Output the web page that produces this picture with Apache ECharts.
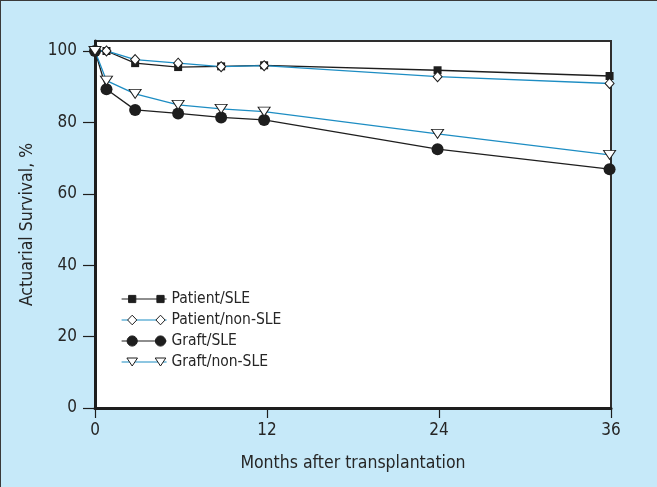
<!DOCTYPE html>
<html>
<head>
<meta charset="utf-8">
<script src="https://cdn.jsdelivr.net/npm/echarts@6/dist/echarts.min.js"></script>
<style>
html,body{margin:0;padding:0;background:#c6e9f9;}
#chart{position:absolute;left:0;top:0;width:657px;height:487px;}
#frame{position:absolute;left:0;top:0;width:657px;height:487px;box-sizing:border-box;border:1px solid #3a3a3a;border-right:none;border-bottom:none;pointer-events:none;}
</style>
</head>
<body>
<div id="chart"></div>
<div id="frame"></div>
<script>
// ---- data ----
const months = [0, 0.8, 2.8, 5.8, 8.8, 11.8, 23.9, 35.9];
const patientSLE = [100, 100, 96.6, 95.5, 95.7, 96.0, 94.6, 93.0];
const patientNonSLE = [100, 100, 97.6, 96.6, 95.6, 95.9, 92.8, 90.9];
const graftSLE = [100, 89.3, 83.5, 82.5, 81.4, 80.7, 72.5, 66.9];
const graftNonSLE = [100, 91.7, 88.0, 84.9, 83.8, 83.0, 76.8, 70.9];
const seriesNames = ['Patient/SLE', 'Patient/non-SLE', 'Graft/SLE', 'Graft/non-SLE'];
const xTicks = [0, 12, 24, 36];
const yTicks = [0, 20, 40, 60, 80, 100];

const FONT = "'Liberation Sans Narrow', 'DejaVu Sans Condensed', 'Liberation Sans', sans-serif";
const BLACK = '#1e1e1e';
const BLUE = '#1d8dc3';
const TEXT = '#262626';

function pairs(vals) { return months.map((m, i) => [m, vals[i]]); }

// legend icons (45 x 12 box); anchors fix the bounding box
const ANCH = ' M0 0 M45 12';
const lineIcon = 'path://M0 6H45' + ANCH;
const sqIcon = 'path://M7.1 2.4H14.3V9.6H7.1Z M35.4 2.4H42.6V9.6H35.4Z' + ANCH;
const diaIcon = 'path://M10.7 1.2L15.3 6L10.7 10.8L6.1 6Z M39 1.2L43.6 6L39 10.8L34.4 6Z' + ANCH;
const cirIcon = 'path://M5.6 6A5.1 5.1 0 1 0 15.8 6A5.1 5.1 0 1 0 5.6 6Z M33.9 6A5.1 5.1 0 1 0 44.1 6A5.1 5.1 0 1 0 33.9 6Z' + ANCH;
const triIcon = 'path://M5.4 2H16L10.7 10Z M33.7 2H44.3L39 10Z' + ANCH;

const lineColors = [BLACK, BLUE, BLACK, BLUE];
const shapeIcons = [sqIcon, diaIcon, cirIcon, triIcon];
const shapeFill = [BLACK, '#ffffff', BLACK, '#ffffff'];

const legendCommon = {
  orient: 'vertical', left: 121, top: 291, padding: 0, itemWidth: 45, itemHeight: 12, itemGap: 5,
  selectedMode: false, symbolKeepAspect: false
};

const option = {
  backgroundColor: '#c6e9f9',
  animation: false,
  grid: { left: 95, right: 46, top: 41, bottom: 79, show: true, backgroundColor: '#ffffff', borderColor: '#2e2e2e', borderWidth: 2 },
  xAxis: {
    type: 'value', min: 0, max: 36, interval: 12,
    name: 'Months after transplantation', nameLocation: 'middle', nameGap: 46,
    nameTextStyle: { fontFamily: FONT, fontSize: 17.5, color: TEXT },
    axisLine: { lineStyle: { color: BLACK, width: 3 } },
    axisTick: { length: 10, lineStyle: { color: BLACK, width: 1.2 } },
    axisLabel: { fontFamily: FONT, fontSize: 17, color: TEXT, margin: 14,
      formatter: v => xTicks.indexOf(v) >= 0 ? String(v) : '' },
    splitLine: { show: false }
  },
  yAxis: {
    type: 'value', min: 0, max: 102.8, interval: 20,
    name: 'Actuarial Survival, %', nameLocation: 'middle', nameGap: 49,
    nameTextStyle: { fontFamily: FONT, fontSize: 17.5, color: TEXT },
    axisLine: { lineStyle: { color: BLACK, width: 3 } },
    axisTick: { length: 12, lineStyle: { color: BLACK, width: 1.2 } },
    axisLabel: { fontFamily: FONT, fontSize: 17, color: TEXT, margin: 18, showMaxLabel: false,
      formatter: v => yTicks.indexOf(v) >= 0 ? String(v) : '' },
    splitLine: { show: false }
  },
  legend: [
    Object.assign({}, legendCommon, {
      z: 5,
      textStyle: { color: 'rgba(0,0,0,0)', fontFamily: FONT, fontSize: 15.5 },
      data: seriesNames.map((n, i) => ({ name: n, icon: lineIcon,
        itemStyle: { color: 'rgba(0,0,0,0)', borderColor: lineColors[i], borderWidth: 1.2 } }))
    }),
    Object.assign({}, legendCommon, {
      z: 6,
      textStyle: { color: TEXT, fontFamily: FONT, fontSize: 15.5 },
      data: seriesNames.map((n, i) => ({ name: n, icon: shapeIcons[i],
        itemStyle: { color: shapeFill[i], borderColor: BLACK, borderWidth: 1 } }))
    })
  ],
  series: [
    { name: seriesNames[0], type: 'line', data: pairs(patientSLE), symbol: 'rect', symbolSize: 8,
      lineStyle: { color: BLACK, width: 1.3 }, itemStyle: { color: BLACK, borderColor: BLACK, borderWidth: 0 }, clip: false },
    { name: seriesNames[1], type: 'line', data: pairs(patientNonSLE), symbol: 'diamond', symbolSize: [9, 10],
      lineStyle: { color: BLUE, width: 1.3 }, itemStyle: { color: '#ffffff', borderColor: BLACK, borderWidth: 1 }, clip: false },
    { name: seriesNames[2], type: 'line', data: pairs(graftSLE), symbol: 'circle', symbolSize: 12,
      lineStyle: { color: BLACK, width: 1.3 }, itemStyle: { color: BLACK, borderColor: BLACK, borderWidth: 0 }, clip: false },
    { name: seriesNames[3], type: 'line', data: pairs(graftNonSLE), symbol: 'triangle', symbolRotate: 180, symbolSize: [12, 9],
      lineStyle: { color: BLUE, width: 1.3 }, itemStyle: { color: '#ffffff', borderColor: BLACK, borderWidth: 1 }, clip: false }
  ]
};

const chart = echarts.init(document.getElementById('chart'), null, { renderer: 'canvas' });
chart.setOption(option);
</script>
</body>
</html>
